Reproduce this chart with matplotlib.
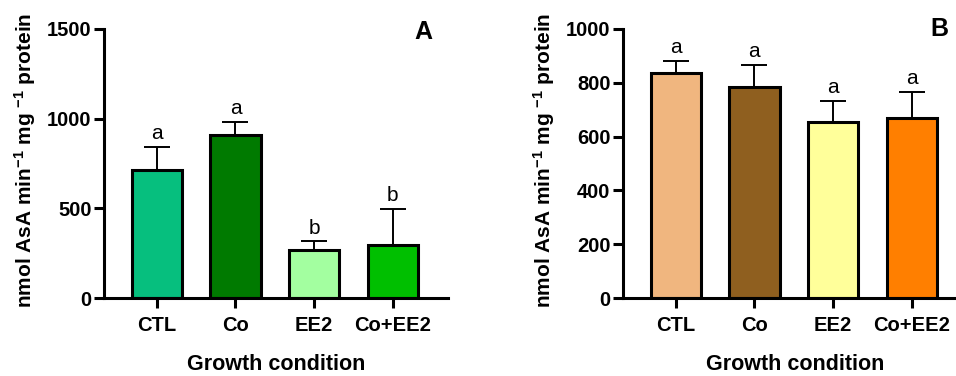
import matplotlib
matplotlib.use("Agg")
import matplotlib.pyplot as plt
import numpy as np

plt.rcParams['font.family'] = ['Liberation Sans', 'DejaVu Sans']
plt.rcParams['mathtext.fontset'] = 'custom'
plt.rcParams['mathtext.bf'] = 'Liberation Sans:bold'
plt.rcParams['mathtext.rm'] = 'Liberation Sans:bold'
plt.rcParams['mathtext.default'] = 'bf'

# Data
conditions = ["CTL", "Co", "EE2", "Co+EE2"]

means_a = [714, 909, 268, 296]
errs_a = [128, 72, 48, 200]
letters_a = ["a", "a", "b", "b"]
colors_a = ["#06BF7E", "#007A00", "#A3FFA0", "#00BF00"]

means_b = [835, 786, 655, 668]
errs_b = [47, 81, 78, 99]
letters_b = ["a", "a", "a", "a"]
colors_b = ["#F0B67F", "#8F5F1F", "#FFFF9A", "#FF7F00"]

ylabel = r"nmol AsA min$^{-1}$ mg $^{-1}$ protein"

fig = plt.figure(figsize=(9.56, 3.76), dpi=100)
ax_a = fig.add_axes([104/956, 1-298/376, 344/956, 269/376])
ax_b = fig.add_axes([623/956, 1-298/376, 332/956, 269/376])


def draw_panel(ax, means, errs, letters, colors, ymax, yticks, xmax):
    x = np.arange(len(conditions))
    ax.bar(x, means, width=0.64, color=colors, edgecolor="black", linewidth=2.2, zorder=2)
    ax.errorbar(x, means, yerr=[[0]*len(errs), errs], fmt="none", ecolor="black",
                elinewidth=1.4, capsize=9.5, capthick=1.4, zorder=1)
    for xi, m, e, l in zip(x, means, errs, letters):
        ax.text(xi, m + e + ymax*0.014, l, ha="center", va="bottom", fontsize=15,
                family="Liberation Sans")
    ax.set_xlim(-0.67, xmax)
    ax.set_ylim(0, ymax)
    ax.set_yticks(yticks)
    ax.set_xticks(x)
    ax.set_xticklabels(conditions)
    for s in ["top", "right"]:
        ax.spines[s].set_visible(False)
    for s in ["left", "bottom"]:
        ax.spines[s].set_linewidth(2.2)
    ax.tick_params(axis="both", length=7, width=2.2, direction="out")
    ax.tick_params(axis="y", labelsize=14.5, pad=2)
    ax.tick_params(axis="x", labelsize=14.5, pad=6)
    for t in ax.get_xticklabels() + ax.get_yticklabels():
        t.set_fontweight("bold")
    w = ax.get_position().width * 956
    ax.set_xlabel("Growth condition", fontsize=15.5, fontweight="bold")
    ax.xaxis.label.set_va("baseline")
    ax.xaxis.set_label_coords(172 / w, (298 - 370) / 269)
    ax.set_ylabel(ylabel, fontsize=15, fontweight="bold")
    ax.yaxis.label.set_va("center")
    ax.yaxis.set_label_coords(-79 / w, (298 - 160) / 269)
    ax.patch.set_alpha(0)


draw_panel(ax_a, means_a, errs_a, letters_a, colors_a, 1500, [0, 500, 1000, 1500], 3.70)
draw_panel(ax_b, means_b, errs_b, letters_b, colors_b, 1000, [0, 200, 400, 600, 800, 1000], 3.55)

fig.text(423/956, 1-32/376, "A", ha="center", va="center", fontsize=18, fontweight="bold")
fig.text(939/956, 1-29/376, "B", ha="center", va="center", fontsize=18, fontweight="bold")

fig.savefig("out.png", dpi=100)
